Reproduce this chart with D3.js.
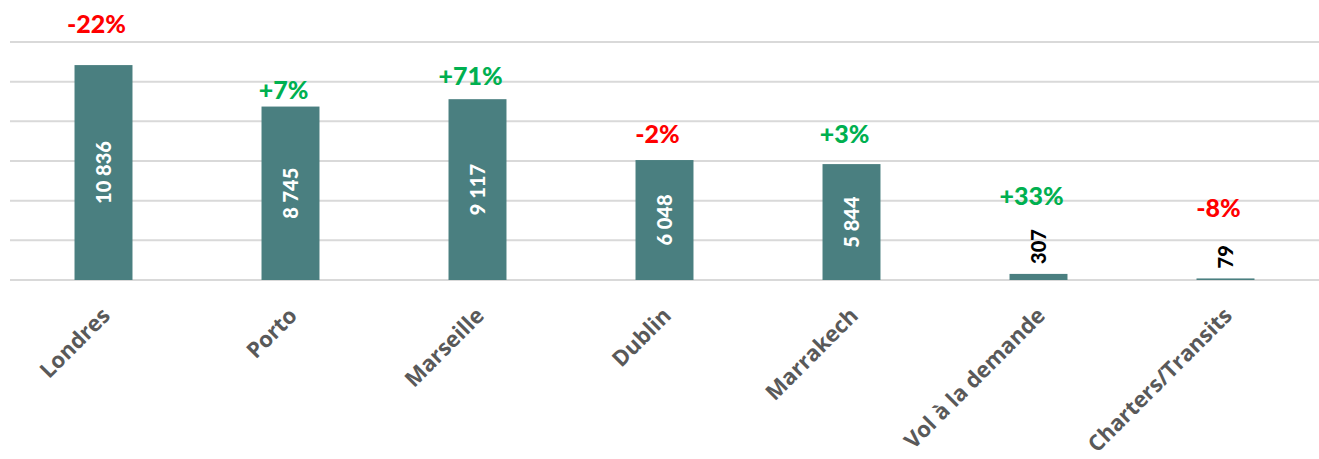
<!DOCTYPE html>
<html>
<head>
<meta charset="utf-8">
<script src="https://cdn.jsdelivr.net/npm/d3@7"></script>
<style>
  html, body { margin: 0; padding: 0; background: #fff; }
  svg { display: block; }
</style>
</head>
<body>
<div id="chart"></div>
<script>
// categories and values
var destinations = ['Londres', 'Porto', 'Marseille', 'Dublin', 'Marrakech', 'Vol à la demande', 'Charters/Transits'];
var passengers   = [10836, 8745, 9117, 6048, 5844, 307, 79];
var variations   = ['-22%', '+7%', '+71%', '-2%', '+3%', '+33%', '-8%'];
// where each variation label sits (in chart units, as placed by hand in the source)
var variationAt  = [12450, 9120, 9820, 6900, 6900, 3780, 3170];
var gridTicks    = [0, 2000, 4000, 6000, 8000, 10000, 12000];

(function () {
  'use strict';

  var W = 1319, H = 459;
  var left = 10, right = 1319, base = 280;

  var svg = d3.select('#chart').append('svg')
    .attr('width', W).attr('height', H);

  var x = d3.scaleBand().domain(destinations).range([left, right]).paddingInner(0.69).paddingOuter(0.345);
  var y = d3.scaleLinear().domain([0, 12000]).range([base, 42]);

  // gridlines
  svg.append('g').selectAll('line').data(gridTicks).enter()
    .append('line')
    .attr('x1', left).attr('x2', right)
    .attr('y1', function (d) { return y(d); })
    .attr('y2', function (d) { return y(d); })
    .attr('stroke', '#d9d9d9')
    .attr('stroke-width', 2);

  // bars
  svg.append('g').selectAll('rect').data(passengers).enter()
    .append('rect')
    .attr('x', function (d, i) { return x(destinations[i]); })
    .attr('width', x.bandwidth())
    .attr('y', function (d) { return y(d); })
    .attr('height', function (d) { return base - y(d); })
    .attr('fill', '#4a7f80');

  var fmt = function (v) { return d3.format(',')(v).replace(/,/g, ' '); };

  // value labels, rotated
  svg.append('g').selectAll('text').data(passengers).enter()
    .append('text')
    .attr('transform', function (d, i) {
      var cx = x(destinations[i]) + x.bandwidth() / 2;
      var big = (base - y(d)) > 80;
      var cy = big ? (y(d) + base) / 2 : y(d) - 10;
      return 'translate(' + (cx + 7) + ',' + cy + ') rotate(-90)';
    })
    .attr('text-anchor', function (d) { return (base - y(d)) > 80 ? 'middle' : 'start'; })
    .attr('font-family', 'Lato, sans-serif')
    .attr('font-weight', '900')
    .attr('font-size', '20px')
    .attr('fill', function (d) { return (base - y(d)) > 80 ? '#ffffff' : '#000000'; })
    .text(function (d) { return fmt(d); });

  // variation labels
  svg.append('g').selectAll('text').data(variations).enter()
    .append('text')
    .attr('x', function (d, i) { return x(destinations[i]) + x.bandwidth() / 2 - 7; })
    .attr('y', function (d, i) { return y(variationAt[i]); })
    .attr('text-anchor', 'middle')
    .attr('font-family', 'Lato, sans-serif')
    .attr('font-weight', '900')
    .attr('font-size', '25px')
    .attr('fill', function (d) { return d.charAt(0) === '-' ? '#ff0000' : '#00b050'; })
    .text(function (d) { return d; });

  // category labels
  svg.append('g').selectAll('text').data(destinations).enter()
    .append('text')
    .attr('transform', function (d) {
      var cx = x(d) + x.bandwidth() / 2;
      return 'translate(' + (cx + 8) + ',' + (base + 37) + ') rotate(-45)';
    })
    .attr('text-anchor', 'end')
    .attr('font-family', '"Open Sans", sans-serif')
    .attr('font-weight', 'bold')
    .attr('font-size', '22px')
    .attr('fill', '#595959')
    .text(function (d) { return d; });
})();
</script>
</body>
</html>
